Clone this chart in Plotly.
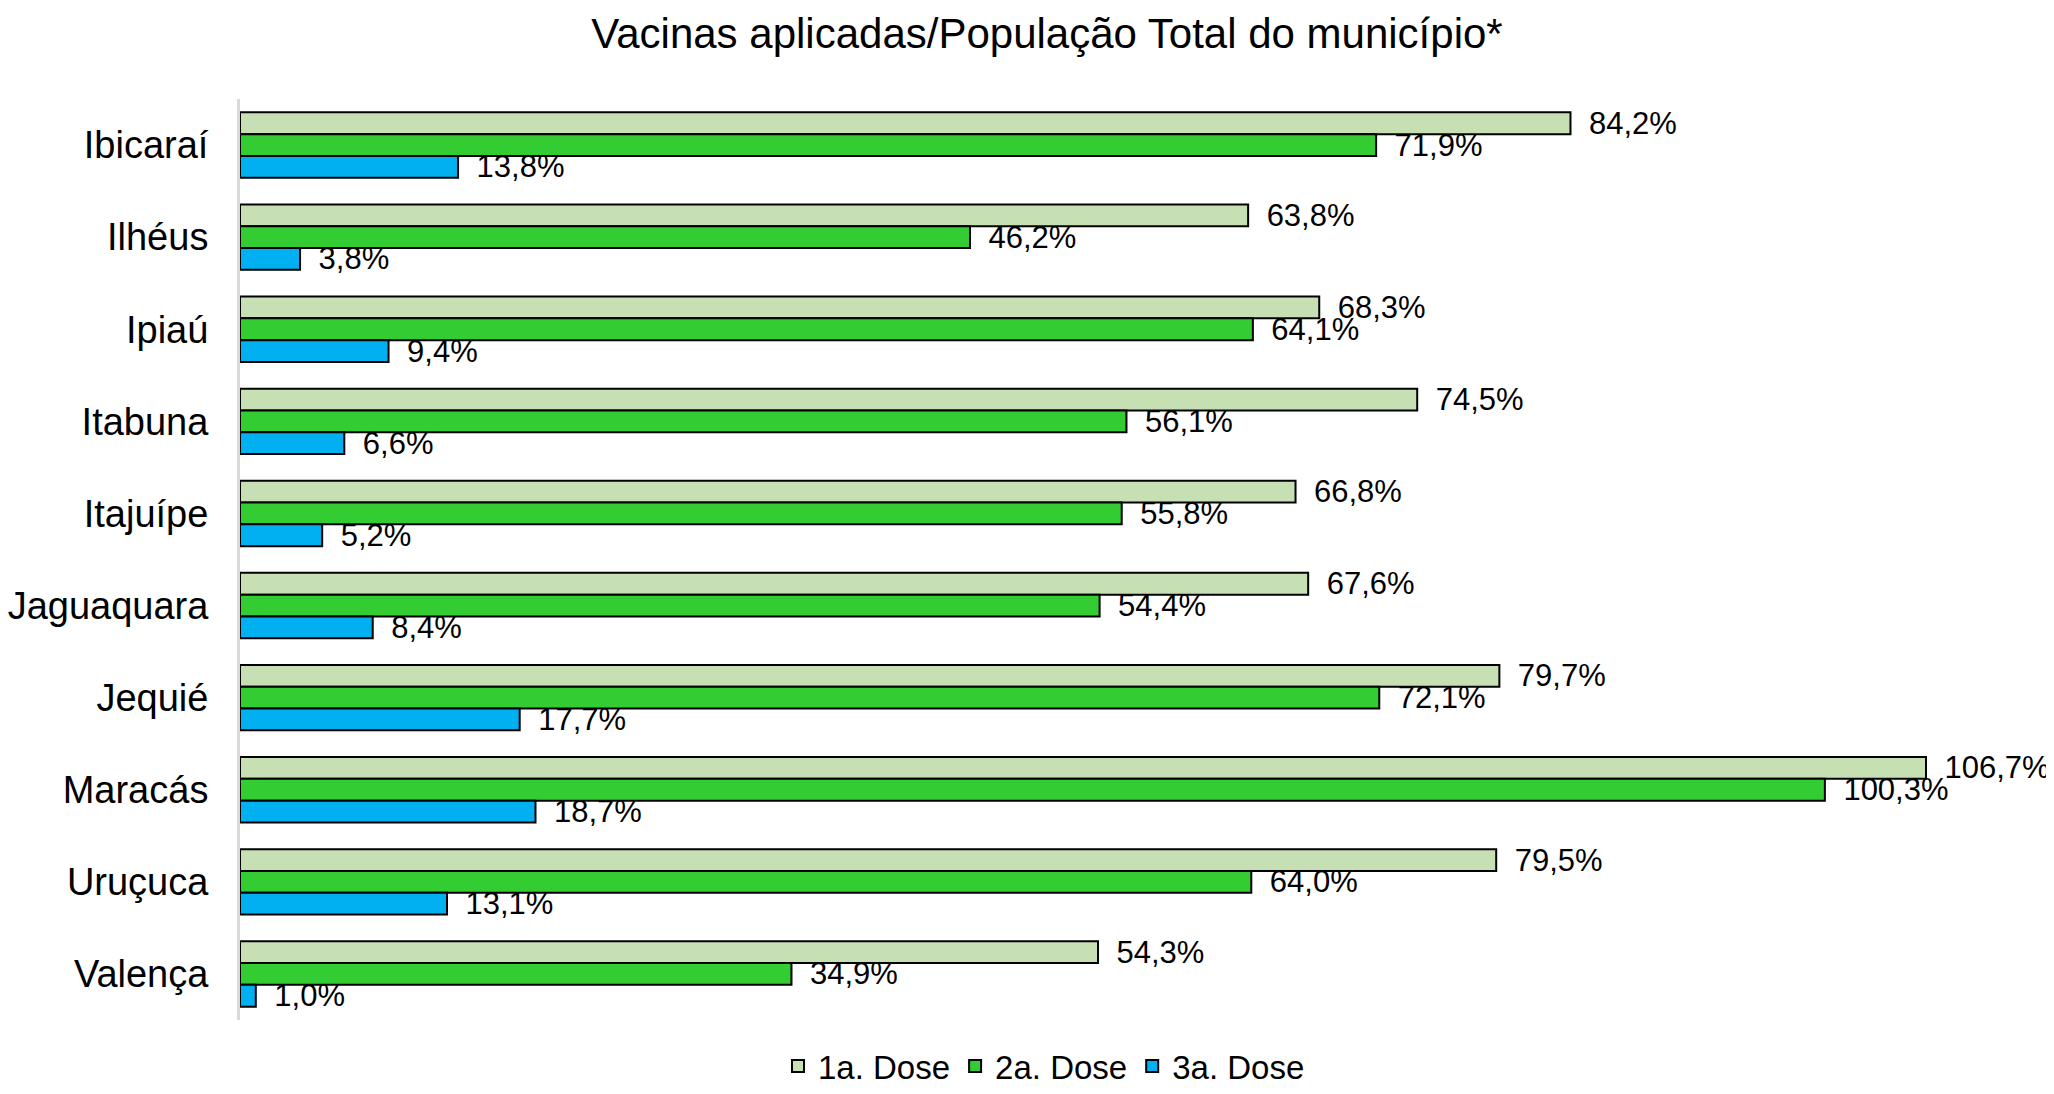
import plotly.graph_objects as go

municipios = ["Ibicaraí", "Ilhéus", "Ipiaú", "Itabuna", "Itajuípe", "Jaguaquara",
              "Jequié", "Maracás", "Uruçuca", "Valença"]
dose1 = [84.2, 63.8, 68.3, 74.5, 66.8, 67.6, 79.7, 106.7, 79.5, 54.3]
dose2 = [71.9, 46.2, 64.1, 56.1, 55.8, 54.4, 72.1, 100.3, 64.0, 34.9]
dose3 = [13.8, 3.8, 9.4, 6.6, 5.2, 8.4, 17.7, 18.7, 13.1, 1.0]
series_names = ["1a. Dose", "2a. Dose", "3a. Dose"]
colors = ["#C6E0B4", "#33CC33", "#00B0F0"]

FONT = "Arial, 'Liberation Sans', sans-serif"


def fmt(v):
    return "\u2002" + f"{v:.1f}".replace(".", ",") + "%"


fig = go.Figure()
for name, vals, col in zip(series_names, [dose1, dose2, dose3], colors):
    fig.add_trace(go.Bar(
        y=municipios, x=vals, name=name, orientation="h",
        marker=dict(color=col, line=dict(color="#000000", width=2)),
        text=[fmt(v) for v in vals], textposition="outside",
        textfont=dict(family=FONT, size=31, color="#000000"),
        constraintext="none", cliponaxis=False,
    ))

W, H = 2046, 1086
fig.update_layout(
    width=W, height=H,
    paper_bgcolor="white", plot_bgcolor="white",
    barmode="group", bargap=0.29, bargroupgap=0,
    margin=dict(l=232, r=0, t=91, b=74, autoexpand=False),
    title=dict(text="Vacinas aplicadas/População Total do município*",
               x=1039 / W, xanchor="center", y=1 - 25 / H, yanchor="middle",
               font=dict(family=FONT, size=42, color="#000000")),
    legend=dict(orientation="h", xref="container", yref="container",
                x=1036 / W, xanchor="center", y=-0.006, yanchor="bottom",
                font=dict(family=FONT, size=33, color="#000000"),
                traceorder="normal"),
    font=dict(family=FONT, color="#000000"),
)
fig.update_xaxes(visible=False, range=[0, 114.8], showgrid=False, zeroline=False,
                 automargin=False)
fig.update_yaxes(autorange="reversed", showline=True, linecolor="#D9D9D9", linewidth=3,
                 showgrid=False, ticks="", ticklabelstandoff=21, automargin=False,
                 tickfont=dict(family=FONT, size=38, color="#000000"))

fig.write_html("out.html")
